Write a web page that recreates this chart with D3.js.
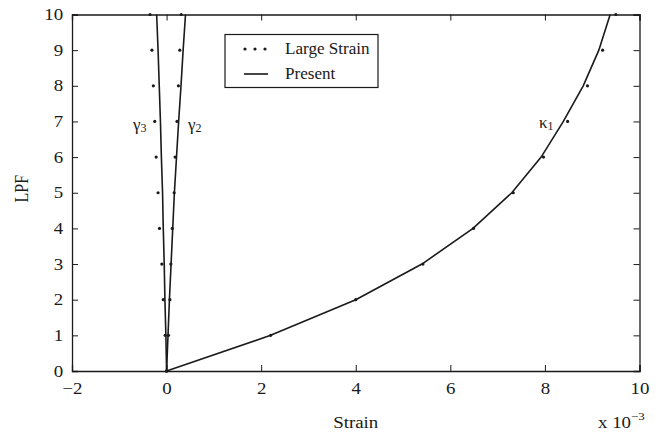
<!DOCTYPE html>
<html>
<head>
<meta charset="utf-8">
<script src="https://cdn.jsdelivr.net/npm/d3@7"></script>
<style>
  body { margin: 0; background: #fff; }
  svg, svg text { font-family: "Liberation Serif", "Times New Roman", "DejaVu Serif", serif !important; }
</style>
</head>
<body>
<div id="main"></div>
<script>
// LPF levels (y) and strains (x 10^-3)
const lpf = [0, 1, 2, 3, 4, 5, 6, 7, 8, 9, 10];
const presentK1 = [0, 2.2, 4.0, 5.4, 6.48, 7.3, 7.92, 8.39, 8.81, 9.14, 9.38];
const largeK1   = [0, 2.2, 4.0, 5.42, 6.49, 7.33, 7.97, 8.48, 8.90, 9.22, 9.50];
const presentG2 = [0, 0.03, 0.06, 0.095, 0.13, 0.165, 0.21, 0.255, 0.305, 0.35, 0.40];
const largeG2   = [0, 0.04, 0.07, 0.09, 0.12, 0.16, 0.18, 0.22, 0.25, 0.28, 0.31];
const presentG3 = [0, -0.015, -0.035, -0.05, -0.07, -0.085, -0.11, -0.13, -0.155, -0.18, -0.21];
const largeG3   = [0, -0.03, -0.07, -0.10, -0.15, -0.18, -0.22, -0.25, -0.28, -0.31, -0.35];
const xTicks = [-2, 0, 2, 4, 6, 8, 10];
const yTicks = [0, 1, 2, 3, 4, 5, 6, 7, 8, 9, 10];

var width = 668, height = 437;
var ink = "#1a1a1a";
var stretch = 1.18; // the source text is a bit wide

const x = d3.scaleLinear().domain([-2, 10]).range([72, 639.5]);
const y = d3.scaleLinear().domain([0, 10]).range([371, 14.5]);

const line = d3.line()
    .x(d => x(d[0]))
    .y(d => y(d[1]));

function main () {
  const svg = d3.create("svg")
    .attr("width", width)
    .attr("height", height);

  // axes, ticks inward on all four sides
  svg.append("g")
    .attr("transform", `translate(0,${y(0)})`)
    .call(d3.axisBottom(x).tickValues(xTicks).tickSize(-6).tickPadding(12)
      .tickFormat(d => d < 0 ? "\u2212" + Math.abs(d) : d));
  svg.append("g")
    .attr("transform", `translate(0,${y(10)})`)
    .call(d3.axisTop(x).tickValues(xTicks).tickSize(-6).tickFormat(""));
  svg.append("g")
    .attr("transform", `translate(${x(-2)},0)`)
    .call(d3.axisLeft(y).tickValues(yTicks).tickSize(-6).tickPadding(7.5));
  svg.append("g")
    .attr("transform", `translate(${x(10)},0)`)
    .call(d3.axisRight(y).tickValues(yTicks).tickSize(-6).tickFormat(""));

  svg.selectAll("g").attr("font-family", null);
  svg.selectAll(".domain").attr("stroke", ink).attr("stroke-width", 1.3);
  svg.selectAll(".tick line").attr("stroke", ink).attr("stroke-width", 1);
  svg.selectAll(".tick text")
    .attr("font-size", 16)
    .attr("fill", ink)
    .attr("transform", `scale(${stretch},1)`);

  // present curves
  const curves = [presentK1, presentG2, presentG3];
  svg.append("g")
    .attr("fill", "none")
    .attr("stroke", ink)
    .attr("stroke-width", 1.6)
    .selectAll("path")
    .data(curves)
    .join("path")
    .attr("d", c => line(c.map((v, i) => [v, lpf[i]])));

  // large strain points
  const pts = [largeK1, largeG2, largeG3].flatMap(s => s.map((v, i) => [v, lpf[i]]));
  svg.append("g")
    .attr("fill", ink)
    .selectAll("circle")
    .data(pts)
    .join("circle")
    .attr("cx", d => x(d[0]))
    .attr("cy", d => y(d[1]))
    .attr("r", 1.6);

  // curve labels
  const lab = svg.append("g").attr("font-size", 17).attr("fill", ink);
  lab.append("text").attr("x", 133).attr("y", 130).text("\u03b3").append("tspan").attr("font-size", 12).attr("dy", 2).text("3");
  lab.append("text").attr("x", 188).attr("y", 130).text("\u03b3").append("tspan").attr("font-size", 12).attr("dy", 2).text("2");
  lab.append("text").attr("x", 539).attr("y", 128).text("\u03ba").append("tspan").attr("font-size", 12).attr("dy", 2).text("1");

  // legend
  const leg = svg.append("g");
  leg.append("rect")
    .attr("x", 225).attr("y", 34.5).attr("width", 153).attr("height", 53)
    .attr("fill", "#fff").attr("stroke", ink).attr("stroke-width", 1.2);
  leg.selectAll("circle")
    .data([245, 255, 265])
    .join("circle")
    .attr("cx", d => d).attr("cy", 49).attr("r", 1.6).attr("fill", ink);
  leg.append("line")
    .attr("x1", 244).attr("x2", 268).attr("y1", 74).attr("y2", 74)
    .attr("stroke", ink).attr("stroke-width", 1.6);
  leg.selectAll("text")
    .data([["Large Strain", 54], ["Present", 79]])
    .join("text")
    .attr("transform", d => `translate(285,${d[1]}) scale(1.07,1)`)
    .attr("font-size", 16).attr("fill", ink)
    .text(d => d[0]);

  // axis titles
  svg.append("text")
    .attr("transform", `translate(${(x(-2) + x(10)) / 2},428) scale(${stretch},1)`)
    .attr("text-anchor", "middle").attr("font-size", 16).attr("fill", ink)
    .text("Strain");
  svg.append("text")
    .attr("transform", `translate(28,${(y(0) + y(10)) / 2 - 4}) rotate(-90) scale(1,${stretch})`)
    .attr("text-anchor", "middle").attr("font-size", 16).attr("fill", ink)
    .text("LPF");
  const mult = svg.append("text")
    .attr("transform", `translate(598,428) scale(${stretch},1)`)
    .attr("font-size", 16).attr("fill", ink)
    .text("x 10");
  mult.append("tspan").attr("font-size", 11).attr("dy", -8).text("\u22123");

  return svg.node();
}

document.getElementById("main").appendChild(main());
</script>
</body>
</html>
